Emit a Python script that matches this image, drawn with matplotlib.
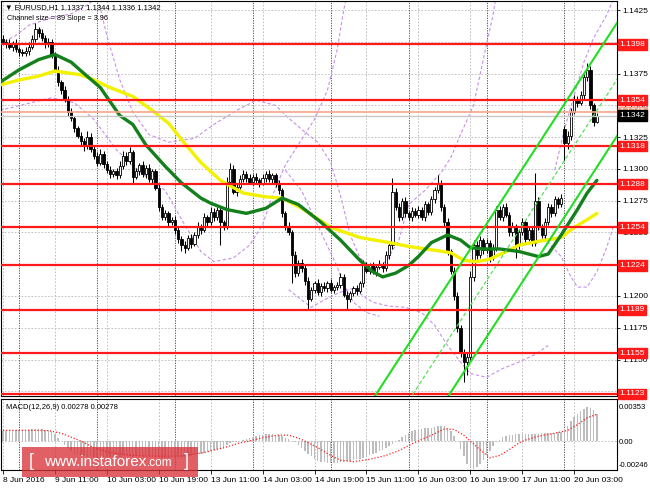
import matplotlib.pyplot as plt
import matplotlib.transforms as mtransforms
from matplotlib.patches import Rectangle
import numpy as np

plt.rcParams['font.family'] = ['Liberation Sans', 'DejaVu Sans']

# --- Dados (EURUSD H1) ---
first_open = 1.1402
closes = [
    1.1400, 1.1398, 1.1396, 1.1399, 1.1394, 1.1392, 1.1391, 1.1393, 1.1396, 1.1402,
    1.1410, 1.1407, 1.1403, 1.1398, 1.1400, 1.1390, 1.1378, 1.1368, 1.1362, 1.1355,
    1.1345, 1.1340, 1.1332, 1.1326, 1.1322, 1.1318, 1.1325, 1.1316, 1.1310, 1.1305,
    1.1312, 1.1304, 1.1299, 1.1296, 1.1298, 1.1295, 1.1302, 1.1310, 1.1306, 1.1313,
    1.1294, 1.1298, 1.1303, 1.1296, 1.1301, 1.1292, 1.1298, 1.1285, 1.1270, 1.1262,
    1.1265, 1.1258, 1.1260, 1.1252, 1.1245, 1.1240, 1.1238, 1.1246, 1.1241, 1.1248,
    1.1255, 1.1252, 1.1262, 1.1258, 1.1266, 1.1262, 1.1268, 1.1258, 1.1255, 1.1290,
    1.1300, 1.1282, 1.1286, 1.1292, 1.1296, 1.1293, 1.1290, 1.1294, 1.1291, 1.1289,
    1.1293, 1.1296, 1.1292, 1.1295, 1.1288, 1.1283, 1.1265, 1.1255, 1.1250, 1.1232,
    1.1218, 1.1226, 1.1222, 1.1212, 1.1198, 1.1205, 1.1210, 1.1203, 1.1208, 1.1206,
    1.1210, 1.1205, 1.1207, 1.1209, 1.1215, 1.1201, 1.1198, 1.1202, 1.1206, 1.1204,
    1.1210, 1.1225, 1.1220, 1.1224, 1.1219, 1.1223, 1.1225, 1.1222, 1.1232, 1.1240,
    1.1282, 1.1270, 1.1262, 1.1275, 1.1265, 1.1262, 1.1267, 1.1264, 1.1268, 1.1262,
    1.1272, 1.1266, 1.1276, 1.1283, 1.1288, 1.1270, 1.1258, 1.1235, 1.1220, 1.1200,
    1.1175, 1.1155, 1.1148, 1.1152, 1.1215, 1.1240, 1.1232, 1.1244, 1.1236, 1.1242,
    1.1230, 1.1238, 1.1268, 1.1262, 1.1270, 1.1264, 1.1250, 1.1255, 1.1240, 1.1250,
    1.1258, 1.1245, 1.1252, 1.1242, 1.1275, 1.1255, 1.1248, 1.1258, 1.1270, 1.1265,
    1.1276, 1.1272, 1.1277, 1.1320, 1.1326, 1.1345, 1.1355, 1.1352, 1.1358, 1.1372,
    1.1378, 1.1350, 1.1337, 1.1342,
]
# sombras (em pips)
upper_wick = [
    3, 2, 4, 2, 3, 2, 2, 3, 4, 3, 5, 2, 3, 2, 3, 2, 2, 3, 2, 3,
    2, 3, 2, 2, 3, 2, 5, 3, 2, 3, 4, 2, 2, 3, 2, 3, 4, 4, 3, 4,
    2, 3, 2, 3, 2, 3, 2, 2, 3, 2, 3, 2, 2, 3, 2, 2, 3, 2, 3, 2,
    3, 2, 3, 2, 4, 3, 2, 3, 2, 4, 5, 3, 2, 3, 3, 2, 3, 2, 3, 2,
    3, 2, 3, 2, 2, 3, 2, 2, 3, 2, 3, 2, 3, 2, 3, 2, 2, 3, 2, 3,
    2, 3, 2, 2, 3, 2, 3, 2, 2, 3, 2, 3, 2, 2, 3, 2, 3, 2, 3, 3,
    11, 3, 3, 2, 3, 2, 3, 2, 3, 2, 3, 2, 3, 3, 7, 3, 2, 3, 2, 3,
    3, 2, 3, 3, 5, 4, 3, 3, 2, 3, 2, 3, 3, 3, 2, 3, 2, 3, 2, 3,
    3, 2, 3, 2, 22, 3, 2, 3, 3, 2, 3, 2, 3, 3, 4, 3, 3, 2, 3, 3,
    5, 3, 2, 2,
]
lower_wick = [
    2, 3, 2, 3, 2, 3, 2, 2, 3, 2, 2, 3, 2, 3, 2, 3, 2, 3, 3, 2,
    3, 2, 3, 2, 3, 4, 2, 3, 2, 3, 2, 3, 2, 3, 2, 3, 2, 2, 3, 2,
    5, 2, 3, 2, 3, 2, 3, 2, 3, 2, 2, 3, 2, 3, 3, 5, 4, 2, 3, 2,
    2, 3, 2, 3, 2, 3, 2, 18, 3, 2, 3, 2, 3, 2, 2, 3, 2, 3, 2, 3,
    2, 3, 2, 3, 2, 3, 3, 3, 2, 22, 3, 2, 3, 3, 9, 2, 3, 2, 3, 2,
    3, 2, 3, 2, 3, 2, 8, 3, 2, 3, 2, 3, 2, 3, 2, 3, 2, 3, 2, 3,
    3, 2, 3, 2, 3, 2, 3, 2, 3, 2, 3, 2, 2, 3, 2, 3, 3, 3, 3, 3,
    3, 3, 16, 10, 3, 3, 3, 2, 3, 2, 3, 2, 3, 2, 3, 2, 3, 3, 10, 3,
    2, 3, 2, 3, 3, 3, 2, 3, 2, 3, 2, 3, 2, 13, 4, 3, 2, 3, 2, 3,
    3, 3, 3, 1,
]
gap_bar = 173      # abertura de segunda-feira (gap)
gap_open = 1.1331

# médias móveis
green_x = [-1, 5, 11, 16, 21, 25, 30, 36, 40, 44, 50, 55, 61, 64, 69, 75, 81, 86,
           91, 95, 98, 104, 110, 114, 117, 121, 125, 128, 132, 137, 141, 144, 148,
           153, 159, 165, 168, 172, 177, 180, 183]
green_ma = [1.1368, 1.1378, 1.1386, 1.1390, 1.1384, 1.1375, 1.1364, 1.1342, 1.1335,
            1.1319, 1.1302, 1.1289, 1.1277, 1.1273, 1.1268, 1.1265, 1.1269, 1.1277,
            1.1272, 1.1264, 1.1258, 1.1244, 1.1228, 1.1219, 1.1215, 1.1218, 1.1224,
            1.1231, 1.1242, 1.1248, 1.1244, 1.1238, 1.1237, 1.1237, 1.1235, 1.1231,
            1.1233, 1.1248, 1.1268, 1.1281, 1.1291]
yellow_x = [-1, 5, 11, 16, 24, 28, 33, 40, 46, 51, 56, 61, 67, 74, 81, 86, 92, 101,
            110, 119, 125, 133, 138, 142, 146, 150, 156, 159, 165, 172, 176, 180, 183]
yellow_ma = [1.1366, 1.1370, 1.1373, 1.1377, 1.1374, 1.1370, 1.1364, 1.1357, 1.1346,
             1.1336, 1.1320, 1.1305, 1.1291, 1.1281, 1.1278, 1.1277, 1.1269, 1.1254,
             1.1246, 1.1242, 1.1239, 1.1236, 1.1234, 1.1228, 1.1227, 1.1229, 1.1236,
             1.1240, 1.1243, 1.1246, 1.1254, 1.1260, 1.1265]

# curvas tracejadas violeta (bandas)
band_a_x = [-1, 4, 8, 15, 21, 26, 28, 30]
band_a = [1.1398, 1.1405, 1.1413, 1.1419, 1.1422, 1.1429, 1.1433, 1.1439]
band_b_x = [29, 32, 36, 40, 45, 51, 59, 65, 72, 78, 84, 88, 93, 97, 101, 104, 107,
            110, 114, 118, 122, 125, 130, 135, 138, 141, 145, 147, 149, 151, 152]
band_b = [1.1437, 1.1405, 1.1370, 1.1345, 1.1327, 1.1321, 1.1324, 1.1335, 1.1346,
          1.1354, 1.1350, 1.1340, 1.1329, 1.1321, 1.1305, 1.1279, 1.1248, 1.1230,
          1.1222, 1.1227, 1.1244, 1.1272, 1.1283, 1.1297, 1.1309, 1.1327, 1.1350,
          1.1374, 1.1398, 1.1421, 1.1437]
band_c_x = [-1, 7, 15, 22, 28, 35, 42, 50, 56, 61, 65, 71, 76, 80, 83, 87, 92, 96,
            100, 103, 105, 106]
band_c = [1.1346, 1.1351, 1.1356, 1.1352, 1.1339, 1.1315, 1.1298, 1.1283, 1.1256,
          1.1235, 1.1227, 1.1230, 1.1240, 1.1256, 1.1279, 1.1303, 1.1323, 1.1339,
          1.1362, 1.1394, 1.1425, 1.1437]
band_d_x = [87, 92, 98, 103, 105, 108, 112, 116]
band_d = [1.1299, 1.1283, 1.1250, 1.1223, 1.1209, 1.1195, 1.1187, 1.1184]
band_e_x = [88, 92, 95, 99, 104, 108, 111, 114, 119, 124, 129, 133, 137, 141, 144,
            149, 154, 159, 164, 168]
band_e = [1.1205, 1.1197, 1.1191, 1.1197, 1.1203, 1.1206, 1.1200, 1.1195, 1.1192,
          1.1191, 1.1187, 1.1177, 1.1161, 1.1148, 1.1139, 1.1136, 1.1143, 1.1148,
          1.1154, 1.1161]
band_f_x = [165, 168, 172, 175, 177, 180, 183, 186, 188]
band_f = [1.1254, 1.1242, 1.1231, 1.1215, 1.1207, 1.1207, 1.1219, 1.1238, 1.1254]
band_g_x = [170, 173, 176, 179, 182, 186, 188]
band_g = [1.1299, 1.1331, 1.1358, 1.1384, 1.1403, 1.1421, 1.1433]

# canal de regressão (Channel size = 89, Slope = 3.96)
chan_x = [95, 190]
chan_upper = [1.1044, 1.1418]
chan_lower = [1.0955, 1.1329]

# níveis horizontais
levels = [1.1398, 1.1354, 1.1318, 1.1288, 1.1254, 1.1224, 1.1189, 1.1155, 1.1123]
ask_line = 1.1345
bid_line = 1.1342

# MACD (12,26,9) em unidades de 0.00001
hist_e5 = [
    105, 108, 110, 112, 113, 115, 116, 118, 118, 120, 122, 122, 120, 118, 112, 100,
    70, 35, 0, -40, -75, -105, -130,
    -145, -155, -160, -162, -160, -165, -170, -172, -170, -168, -170, -172, -170,
    -166, -160, -158, -160, -162,
    -160, -158, -160, -158, -155, -155, -158, -165, -172, -175, -172, -170, -168,
    -170, -172, -170, -165, -158, -150, -140,
    -130, -120, -112, -100, -92, -85, -80, -60, -40, -25, -15, -8, 0,
    12, 25, 35, 45, 55, 62, 66, 70, 70, 68, 65, 58, 48, 35, 20, 5,
    -15, -40, -70, -100, -130, -160, -185, -205, -215, -222, -228, -230, -228, -225,
    -220, -215, -210, -205, -198, -190, -182, -172, -160, -148, -135, -120, -105,
    -90, -72, -55, -35, -15,
    10, 40, 65, 85, 100, 110, 118, 125, 130, 135, 140, 148, 155, 160, 158, 140, 100, 55,
    0, -80, -160, -240, -285, -290, -270, -240, -200, -150, -100, -55, -15,
    15, 40, 55, 62, 65, 68, 70, 72, 70, 68, 70, 72, 75, 78, 80, 82, 85, 88, 90, 92,
    120, 160, 205, 245, 280, 310, 335, 350, 345, 320, 278,
]
signal_x = [0, 8, 14, 18, 21, 24, 28, 33, 40, 48, 55, 62, 68, 73, 76, 80, 85, 88, 91,
            93, 97, 101, 104, 108, 113, 118, 122, 126, 128, 132, 136, 139, 142, 144,
            147, 150, 153, 156, 159, 161, 165, 170, 174, 177, 180, 183]
signal_e5 = [110, 112, 108, 80, 40, 0, -70, -120, -150, -160, -155, -120, -70, -20,
             0, 35, 62, 60, 30, 0, -70, -150, -200, -215, -190, -150, -100, -30, 0,
             60, 125, 120, 60, 0, -90, -175, -150, -90, -20, 10, 50, 80, 110, 170,
             240, 278]

time_labels = ['8 Jun 2016', '9 Jun 11:00', '10 Jun 03:00', '10 Jun 19:00',
               '13 Jun 11:00', '14 Jun 03:00', '14 Jun 19:00', '15 Jun 11:00',
               '16 Jun 03:00', '16 Jun 19:00', '17 Jun 11:00', '20 Jun 03:00']
time_label_bars = [0, 16, 32, 48, 64, 80, 96, 112, 128, 144, 160, 176]
day_start_bars = [5, 29, 53, 77, 101, 125, 149, 173]

# --- preparação ---
n = len(closes)
xs = np.arange(n)
c = np.array(closes)
o = np.array([first_open] + closes[:-1])
o[gap_bar] = gap_open
hi = np.maximum(o, c) + np.array(upper_wick) * 0.0001
lo = np.minimum(o, c) - np.array(lower_wick) * 0.0001

fig = plt.figure(figsize=(6.5, 4.88), dpi=100)
ax = fig.add_axes([1 / 650, 92 / 488, 616 / 650, 395 / 488])
ax2 = fig.add_axes([1 / 650, 18 / 488, 616 / 650, 71 / 488])

xlim = (-0.6, 189.2)
grid_kw = dict(color='#b8b8b8', lw=0.6, ls=(0, (2, 2)), zorder=0)
sep_kw = dict(color='#404040', lw=0.6, ls=(0, (1.5, 1.5)), zorder=0)

# --- painel principal ---
for p in np.arange(1.1125, 1.1426, 0.0025):
    ax.axhline(p, **grid_kw)
for b in time_label_bars:
    ax.axvline(b, **grid_kw)
    ax2.axvline(b, **grid_kw)
for b in day_start_bars:
    ax.axvline(b, **sep_kw)
    ax2.axvline(b, **sep_kw)

# bandas violeta
for bx, by in [(band_a_x, band_a), (band_b_x, band_b), (band_c_x, band_c),
               (band_d_x, band_d), (band_e_x, band_e), (band_f_x, band_f),
               (band_g_x, band_g)]:
    ax.plot(bx, by, color='#c890e8', lw=0.8, ls=(0, (3, 2)), zorder=1)

# velas
ax.vlines(xs, lo, hi, color='black', lw=0.75, zorder=2)
body_h = np.maximum(np.abs(c - o), 0.00004)
up = c >= o
ax.bar(xs[up], body_h[up], bottom=np.minimum(o, c)[up], width=0.7,
       color='white', edgecolor='black', linewidth=0.6, zorder=3)
ax.bar(xs[~up], body_h[~up], bottom=np.minimum(o, c)[~up], width=0.7,
       color='black', edgecolor='black', linewidth=0.6, zorder=3)

# médias móveis
ax.plot(yellow_x, yellow_ma, color='#f2f200', lw=2.4, zorder=4, solid_capstyle='round')
ax.plot(green_x, green_ma, color='#14801c', lw=2.4, zorder=4, solid_capstyle='round')

# níveis
for lvl in levels:
    ax.axhline(lvl, color='#ff1a1a', lw=1.6, zorder=5)
ax.axhline(ask_line, color='#f5a58a', lw=1.2, zorder=5)
ax.axhline(bid_line, color='#c8c8c8', lw=1.0, zorder=5)

# canal
chan_mid = [(a + b) / 2 for a, b in zip(chan_upper, chan_lower)]
ax.plot(chan_x, chan_upper, color='#22dd22', lw=1.5, zorder=6)
ax.plot(chan_x, chan_lower, color='#22dd22', lw=1.5, zorder=6)
ax.plot(chan_x, chan_mid, color='#55e055', lw=0.9, ls=(0, (3, 2)), zorder=6)

ax.set_xlim(*xlim)
ax.set_ylim(1.11213, 1.14321)
ax.set_xticks([])
ax.yaxis.tick_right()
ticks = np.arange(1.1125, 1.1426, 0.0025)
ax.set_yticks(ticks)
# rótulos escondidos atrás das caixas vermelhas ficam vazios
hidden = [1.1125, 1.1225, 1.1400]
ax.set_yticklabels(['' if any(abs(t - h) < 1e-6 for h in hidden) else f'{t:.4f}'
                    for t in ticks])
ax.tick_params(axis='y', labelsize=6, length=2, width=0.6, pad=2)

trans = mtransforms.blended_transform_factory(ax.transAxes, ax.transData)
box_kw = dict(transform=trans, fontsize=6, color='white', ha='left', va='center',
              clip_on=False, zorder=10)
for lvl in levels:
    ax.text(1.004, lvl, f'{lvl:.4f}',
            bbox=dict(boxstyle='square,pad=0.2', fc='#ff1a1a', ec='#ff1a1a'), **box_kw)
ax.text(1.004, ask_line, f'{ask_line:.4f}',
        bbox=dict(boxstyle='square,pad=0.2', fc='#f5a58a', ec='#f5a58a'), **box_kw)
ax.text(1.004, bid_line, f'{bid_line:.4f}',
        bbox=dict(boxstyle='square,pad=0.2', fc='black', ec='black'), **box_kw)

# --- MACD ---
ax2.axhline(0, **grid_kw)
ax2.bar(xs, np.array(hist_e5) * 1e-5, width=0.45, color='#bdbdbd', zorder=2)
ax2.plot(signal_x, np.array(signal_e5) * 1e-5, color='#ff2020', lw=0.9,
         ls=(0, (1, 1.5)), zorder=3)
ax2.set_xlim(*xlim)
ax2.set_ylim(-0.00301, 0.00436)
ax2.yaxis.tick_right()
ax2.set_yticks([0.00353, 0.0, -0.00246])
ax2.set_yticklabels(['0.00353', '0.00', '-0.00246'])
ax2.tick_params(axis='y', labelsize=5.5, length=0, width=0.6, pad=1.5)
ax2.set_xticks(time_label_bars)
ax2.set_xticklabels(time_labels, ha='left')
ax2.tick_params(axis='x', labelsize=6, length=3, width=0.6, pad=2)
ax2.text(0.008, 0.93, 'MACD(12,26,9) 0.00278 0.00278', transform=ax2.transAxes,
         fontsize=5.5, ha='left', va='top')

for a in (ax, ax2):
    for s in a.spines.values():
        s.set_linewidth(0.8)

# --- cabeçalho ---
fig.text(5 / 650, 1 - 8 / 488, '\u25bc EURUSD,H1 1.1337 1.1344 1.1336 1.1342',
         fontsize=5.5, ha='left', va='center')
fig.text(7 / 650, 1 - 19 / 488, 'Channel size = 89 Slope = 3.96',
         fontsize=5.2, ha='left', va='center')

# --- marca d'água ---
fig.add_artist(Rectangle((22 / 650, 11 / 488), 176 / 650, 30 / 488,
                         transform=fig.transFigure, facecolor='#d8333a',
                         alpha=0.78, edgecolor='none', zorder=20))
wm_y = 1 - 462 / 488
fig.text(29 / 650, wm_y, '[', fontsize=13, color='white', ha='left', va='center',
         zorder=21)
fig.text(44 / 650, wm_y, 'www.instaforex', fontsize=11, color='white',
         ha='left', va='center', zorder=21)
fig.text(147 / 650, wm_y - 1 / 488, '.com', fontsize=8.5, color='white',
         ha='left', va='center', zorder=21)
fig.text(184 / 650, wm_y, ']', fontsize=13, color='white', ha='left', va='center',
         zorder=21)

fig.savefig('out.png', dpi=100)
